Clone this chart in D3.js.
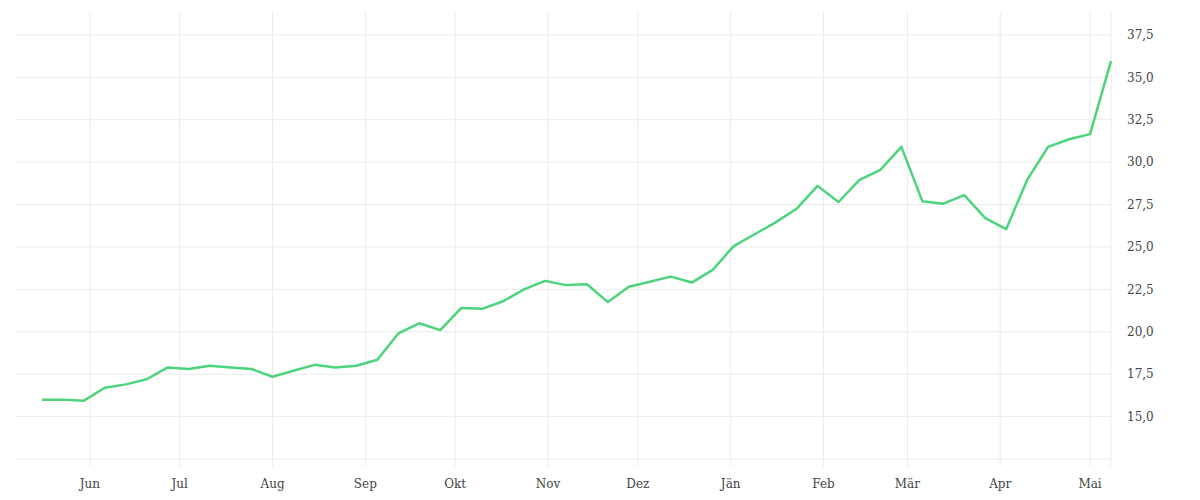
<!DOCTYPE html>
<html><head><meta charset="utf-8">
<script src="https://cdn.jsdelivr.net/npm/d3@7"></script>
<style>body{margin:0;background:#fff}</style>
</head><body>
<svg id="chart" width="1200" height="500"></svg>
<script>
const startDate = "2022-05-16";
const values = [16.0,16.0,15.94,16.7,16.9,17.2,17.9,17.8,18.0,17.9,17.8,17.35,17.7,18.05,17.9,18.0,18.35,19.9,20.5,20.1,21.4,21.35,21.8,22.5,23.0,22.75,22.8,21.75,22.65,22.95,23.25,22.9,23.65,25.05,25.75,26.45,27.25,28.6,27.65,28.95,29.55,30.9,27.7,27.55,28.05,26.7,26.05,28.95,30.9,31.35,31.65,35.95];
const monthLabels = ["Jun","Jul","Aug","Sep","Okt","Nov","Dez","Jän","Feb","Mär","Apr","Mai"];
const yTicks = [12.5,15,17.5,20,22.5,25,27.5,30,32.5,35,37.5];

const svg = d3.select("#chart");
const font = "'DejaVu Serif', serif";

const t0 = d3.timeParse("%Y-%m-%d")(startDate);
const data = values.map((v, i) => ({ date: d3.timeDay.offset(t0, i * 7), v }));

//scales
const x = d3.scaleTime()
  .domain([d3.timeDay.offset(t0, -9), d3.timeDay.offset(data[data.length - 1].date, 1)])
  .range([15, 1114]);
const y = d3.scaleLinear().domain([12.5, 38.85]).range([459, 12]);

const months = d3.timeMonth.range(new Date(2022, 5, 1), new Date(2023, 4, 2));

//grid
svg.append("g").selectAll("line").data(yTicks).join("line")
  .attr("x1", 15).attr("x2", 1111)
  .attr("y1", d => y(d)).attr("y2", d => y(d))
  .attr("stroke", "#ebebeb");
svg.append("g").selectAll("line").data(months).join("line")
  .attr("x1", d => x(d)).attr("x2", d => x(d))
  .attr("y1", 12).attr("y2", 466)
  .attr("stroke", "#ebebeb");
svg.append("line").attr("x1", 1111).attr("x2", 1111).attr("y1", 12).attr("y2", 466)
  .attr("stroke", "#ebebeb");

//y labels
svg.append("g").selectAll("text").data(yTicks.filter(d => d > 13)).join("text")
  .attr("x", 1127).attr("y", d => y(d)).attr("dy", "0.35em")
  .attr("font-family", font).attr("font-size", 12).attr("fill", "#444")
  .text(d => d3.format(".1f")(d).replace(".", ","));

//x labels
svg.append("g").selectAll("text").data(months).join("text")
  .attr("x", d => x(d)).attr("y", 488).attr("text-anchor", "middle")
  .attr("font-family", font).attr("font-size", 12).attr("fill", "#444")
  .text((d, i) => monthLabels[i]);

//line
const line = d3.line().x(d => x(d.date)).y(d => y(d.v));
svg.append("path").datum(data)
  .attr("d", line).attr("fill", "none")
  .attr("stroke", "#4cd47c").attr("stroke-width", 2.5)
  .attr("stroke-linejoin", "round");
</script>
</body></html>
